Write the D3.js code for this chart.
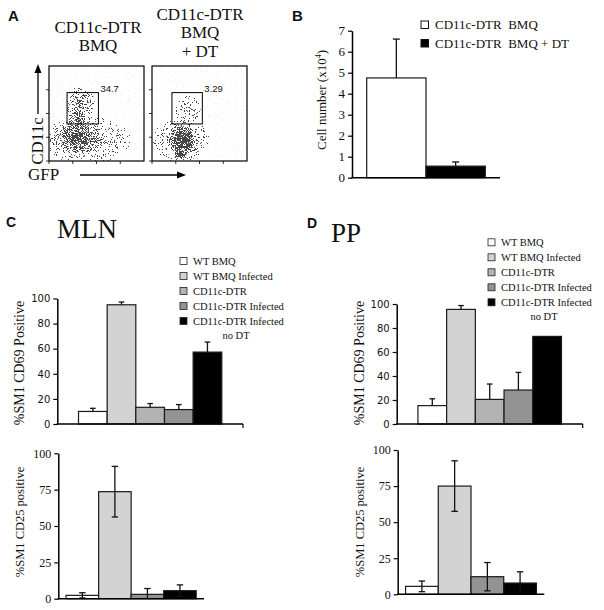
<!DOCTYPE html>
<html><head><meta charset="utf-8">
<script src="https://cdn.jsdelivr.net/npm/d3@7"></script>
<style>body{margin:0;background:#fff}svg{display:block}</style>
</head><body>
<svg id="fig" width="604" height="610"></svg>
<script>
// ---------------- DATA ----------------
// Panel A (flow plots, channel units 0-100 on each axis)
const flowTitles = [["CD11c-DTR", "BMQ"], ["CD11c-DTR", "BMQ", "+ DT"]];
const gatePercent = ["34.7", "3.29"];
const gateX0 = [19, 21], gateX1 = [52, 53], gateY0 = [39, 39], gateY1 = [72, 72];
const flowTicks = [0, 25, 50, 75];
// density clouds (centre x, centre y, radius x, radius y, peak density)
const cloudsBMQ = [
  {x: 40, y: 22, rx: 46, ry: 25, d: 0.38},
  {x: 29, y: 25, rx: 26, ry: 20, d: 0.68},
  {x: 33, y: 60, rx: 15, ry: 19, d: 0.6},
  {x: 30, y: 42, rx: 10, ry: 12, d: 0.45}
];
const cloudsBMQDT = [
  {x: 30, y: 22, rx: 30, ry: 24, d: 0.38},
  {x: 32, y: 22, rx: 17, ry: 18, d: 0.95},
  {x: 30, y: 8, rx: 9, ry: 9, d: 0.75},
  {x: 38, y: 52, rx: 14, ry: 17, d: 0.3}
];

// Panel B
const bCategories = ["CD11c-DTR  BMQ", "CD11c-DTR  BMQ + DT"];
const bValues = [4.75, 0.55];
const bErrors = [1.85, 0.2];
const bTicks = [0, 1, 2, 3, 4, 5, 6, 7];

// Panels C & D
const groups = ["WT BMQ", "WT BMQ Infected", "CD11c-DTR", "CD11c-DTR Infected", "CD11c-DTR Infected"];
const groupColors = ["#ffffff", "#d3d3d3", "#b3b3b3", "#939393", "#000000"];
const cd25Groups = [0, 1, 3, 4];
const cd69Ticks = [0, 20, 40, 60, 80, 100];
const cd25Ticks = [0, 25, 50, 75, 100];
const mlnCD69 = [10, 95, 13.3, 11.5, 57.3];
const mlnCD69Err = [2.5, 2.2, 3, 4, 8];
const mlnCD25 = [2.3, 73.6, 3, 5.5];
const mlnCD25Err = [1.8, 17.4, 4, 4];
const ppCD69 = [15.3, 95.5, 20.5, 28.3, 73];
const ppCD69Err = [5.7, 3.2, 12.8, 14.7, 0];
const ppCD25 = [5.5, 75, 12.2, 7.8];
const ppCD25Err = [3.7, 17.5, 9.8, 7.8];

// ---------------- DRAWING ----------------
const SERIF = "'Liberation Serif','Times New Roman',serif";
const SANS = "'Liberation Sans',Arial,sans-serif";
const VERD = "'DejaVu Sans',Verdana,sans-serif";
const INK = "#111";
const svg = d3.select("#fig");
const defs = svg.append("defs");

function panelLetter(t, x, y, size) {
  svg.append("text").attr("x", x).attr("y", y).text(t)
    .attr("font-family", SANS).attr("font-weight", "bold").attr("font-size", size).attr("fill", INK);
}

// ---- Panel A ----
panelLetter("A", 8, 21, 15);
const flowBoxes = [{x0: 49, clouds: cloudsBMQ}, {x0: 152, clouds: cloudsBMQDT}];
const flowSize = 95, flowTop = 66;
const titleCenters = [98, 200];
const titleBase = [[33, 51], [20, 38, 57]];

flowBoxes.forEach((fb, i) => {
  const f = defs.append("filter").attr("id", "speck" + i)
    .attr("filterUnits", "userSpaceOnUse")
    .attr("x", fb.x0).attr("y", flowTop).attr("width", flowSize).attr("height", flowSize)
    .attr("color-interpolation-filters", "sRGB");
  f.append("feTurbulence").attr("type", "fractalNoise").attr("baseFrequency", 1.15)
    .attr("numOctaves", 2).attr("seed", 5 + i).attr("result", "noise");
  f.append("feColorMatrix").attr("in", "noise").attr("type", "matrix")
    .attr("values", "0 0 0 0 0  0 0 0 0 0  0 0 0 0 0  2.6 0 0 0 -0.8").attr("result", "na");
  f.append("feComposite").attr("in", "SourceAlpha").attr("in2", "na").attr("operator", "arithmetic")
    .attr("k1", 0).attr("k2", 1).attr("k3", -1).attr("k4", 0.5).attr("result", "diff");
  f.append("feColorMatrix").attr("in", "diff").attr("type", "matrix")
    .attr("values", "0 0 0 0 0  0 0 0 0 0  0 0 0 0 0  0 0 0 40 -20");

  const xs = d3.scaleLinear().domain([0, 100]).range([fb.x0, fb.x0 + flowSize]);
  const ys = d3.scaleLinear().domain([0, 100]).range([flowTop + flowSize, flowTop]);
  const g = svg.append("g");

  const cg = g.append("g").attr("filter", `url(#speck${i})`).attr("opacity", 0.72);
  fb.clouds.forEach((c, k) => {
    const gid = `cg${i}_${k}`;
    const rg = defs.append("radialGradient").attr("id", gid);
    rg.append("stop").attr("offset", "0%").attr("stop-color", "#000").attr("stop-opacity", c.d);
    rg.append("stop").attr("offset", "100%").attr("stop-color", "#000").attr("stop-opacity", 0.04);
    cg.append("ellipse").attr("cx", xs(c.x)).attr("cy", ys(c.y))
      .attr("rx", xs(c.rx) - xs(0)).attr("ry", ys(0) - ys(c.ry))
      .attr("fill", `url(#${gid})`);
  });

  g.append("rect").attr("x", xs(0)).attr("y", ys(100)).attr("width", flowSize).attr("height", flowSize)
    .attr("fill", "none").attr("stroke", "#000").attr("stroke-width", 1.2);
  g.selectAll(".lt").data(flowTicks).join("line")
    .attr("x1", xs(0) - 3).attr("x2", xs(0)).attr("y1", d => ys(d)).attr("y2", d => ys(d))
    .attr("stroke", "#000").attr("stroke-width", 0.8);
  g.selectAll(".bt").data(flowTicks).join("line")
    .attr("y1", ys(0)).attr("y2", ys(0) + 3).attr("x1", d => xs(d)).attr("x2", d => xs(d))
    .attr("stroke", "#000").attr("stroke-width", 0.8);
  g.append("rect").attr("x", xs(gateX0[i])).attr("y", ys(gateY1[i]))
    .attr("width", xs(gateX1[i]) - xs(gateX0[i])).attr("height", ys(gateY0[i]) - ys(gateY1[i]))
    .attr("fill", "none").attr("stroke", "#000").attr("stroke-width", 1);
  g.append("text").attr("x", xs(gateX1[i]) + 2).attr("y", ys(gateY1[i]) - 1)
    .text(gatePercent[i]).attr("font-family", SANS).attr("font-size", 9.5).attr("fill", INK);
  flowTitles[i].forEach((t, j) => {
    svg.append("text").attr("x", titleCenters[i]).attr("y", titleBase[i][j]).attr("text-anchor", "middle")
      .text(t).attr("font-family", SERIF).attr("font-size", 17).attr("fill", INK);
  });
});
svg.append("line").attr("x1", 38).attr("x2", 38).attr("y1", 114).attr("y2", 71).attr("stroke", "#000").attr("stroke-width", 1.3);
svg.append("path").attr("d", "M38,64 L34.5,73 L41.5,73 Z").attr("fill", "#000");
svg.append("text").attr("transform", "translate(43,141) rotate(-90)").attr("text-anchor", "middle")
  .text("CD11c").attr("font-family", SERIF).attr("font-size", 17).attr("fill", INK);
svg.append("text").attr("x", 28).attr("y", 180).text("GFP")
  .attr("font-family", SERIF).attr("font-size", 17).attr("fill", INK);
svg.append("line").attr("x1", 80).attr("x2", 178).attr("y1", 175).attr("y2", 175).attr("stroke", "#000").attr("stroke-width", 1.3);
svg.append("path").attr("d", "M186,175 L177,171.5 L177,178.5 Z").attr("fill", "#000");

// ---- generic bar chart ----
function barChart(o) {
  const g = svg.append("g");
  const x = d3.scaleBand().domain(d3.range(o.values.length)).range([o.x0, o.x1])
    .paddingInner(0).paddingOuter(o.pad);
  const y = d3.scaleLinear().domain([0, o.ymax]).range([o.yb, o.yt]);
  g.selectAll(".bar").data(o.values).join("rect")
    .attr("x", (d, i) => x(i)).attr("y", d => y(d))
    .attr("width", x.bandwidth()).attr("height", d => y(0) - y(d))
    .attr("fill", (d, i) => o.colors[i]).attr("stroke", "#1a1a1a").attr("stroke-width", 1.2);
  const eg = g.append("g").attr("stroke", "#111").attr("stroke-width", 1.3);
  o.values.forEach((v, i) => {
    const e = o.errors[i];
    if (!e) return;
    const cx = x(i) + x.bandwidth() / 2;
    const hi = v + e, lo = o.both ? Math.max(0, v - e) : v;
    eg.append("line").attr("x1", cx).attr("x2", cx).attr("y1", y(lo)).attr("y2", y(hi));
    eg.append("line").attr("x1", cx - o.cap).attr("x2", cx + o.cap).attr("y1", y(hi)).attr("y2", y(hi));
    if (o.both && v - e > 0.3)
      eg.append("line").attr("x1", cx - o.cap).attr("x2", cx + o.cap).attr("y1", y(lo)).attr("y2", y(lo));
  });
  const ax = g.append("g").attr("transform", `translate(${o.x0},0)`)
    .call(d3.axisLeft(y).tickValues(o.ticks).tickFormat(d3.format("d")).tickSize(4).tickSizeOuter(0).tickPadding(3));
  ax.select(".domain").attr("stroke", "#000").attr("stroke-width", 1.5);
  ax.selectAll(".tick line").attr("stroke", "#000").attr("stroke-width", 1.2);
  ax.selectAll(".tick text").attr("font-family", o.tickFont).attr("font-size", o.tickSize).attr("fill", INK);
  g.append("line").attr("x1", o.x0 - 0.7).attr("x2", o.x1).attr("y1", y(0)).attr("y2", y(0))
    .attr("stroke", "#000").attr("stroke-width", 1.5);
  if (o.endTick)
    g.append("line").attr("x1", o.x1).attr("x2", o.x1).attr("y1", y(0)).attr("y2", y(0) + 4)
      .attr("stroke", "#000").attr("stroke-width", 1.2);
  if (o.label)
    g.append("text").attr("transform", `translate(${o.lx},${o.ly}) rotate(-90)`).attr("text-anchor", "middle")
      .attr("font-family", SERIF).attr("font-size", o.lsize).attr("fill", INK).text(o.label);
  return {x, y, g};
}

// ---- Panel B ----
panelLetter("B", 292, 21, 15);
barChart({
  values: bValues, errors: bErrors, colors: ["#ffffff", "#000000"],
  x0: 352, x1: 500, pad: 0.248, yb: 177.7, yt: 30.7, ymax: 7, ticks: bTicks,
  tickFont: SERIF, tickSize: 13, cap: 3.5, both: false, endTick: false, label: ""
});
const bl = svg.append("text").attr("transform", "translate(326,100) rotate(-90)").attr("text-anchor", "middle")
  .attr("font-family", SERIF).attr("font-size", 13).attr("fill", INK);
bl.append("tspan").text("Cell number (x10");
bl.append("tspan").text("4").attr("font-size", 8).attr("dy", -5);
bl.append("tspan").text(")").attr("dy", 5);
bCategories.forEach((c, i) => {
  const yy = 21 + i * 18.5;
  svg.append("rect").attr("x", 421).attr("y", yy).attr("width", 7.5).attr("height", 7.5)
    .attr("fill", i ? "#000" : "#fff").attr("stroke", "#111").attr("stroke-width", 1);
  svg.append("text").attr("x", 435).attr("y", yy + 8).text(c).style("white-space", "pre")
    .attr("font-family", SERIF).attr("font-size", 13).attr("fill", INK);
});

// ---- Panels C and D ----
function legend5(x, y0) {
  groups.forEach((gname, i) => {
    const yy = y0 + i * 15;
    svg.append("rect").attr("x", x).attr("y", yy - 3.5).attr("width", 7).attr("height", 7)
      .attr("fill", groupColors[i]).attr("stroke", "#222").attr("stroke-width", 0.8);
    svg.append("text").attr("x", x + 13).attr("y", yy + 3.5).text(gname)
      .attr("font-family", SERIF).attr("font-size", 10.5).attr("fill", INK);
  });
  svg.append("text").attr("x", x + 56).attr("y", y0 + 5 * 15 + 3).attr("text-anchor", "middle").text("no DT")
    .attr("font-family", SERIF).attr("font-size", 10.5).attr("fill", INK);
}

panelLetter("C", 6, 227, 14);
svg.append("text").attr("x", 57).attr("y", 238).text("MLN").attr("font-family", SERIF).attr("font-size", 27).attr("fill", INK);
legend5(180, 261);
barChart({
  values: mlnCD69, errors: mlnCD69Err, colors: groupColors,
  x0: 57.3, x1: 243, pad: 0.74, yb: 424, yt: 298.5, ymax: 100, ticks: cd69Ticks,
  tickFont: VERD, tickSize: 10, cap: 2.8, both: false, endTick: true,
  lx: 24, ly: 363, lsize: 14, label: "%SM1 CD69 Positive"
});
barChart({
  values: mlnCD25, errors: mlnCD25Err, colors: cd25Groups.map(i => groupColors[i]),
  x0: 58.3, x1: 204, pad: 0.24, yb: 598.7, yt: 453.3, ymax: 100, ticks: cd25Ticks,
  tickFont: SERIF, tickSize: 12, cap: 3.2, both: true, endTick: false,
  lx: 24, ly: 522, lsize: 12.5, label: "%SM1 CD25 positive"
});

panelLetter("D", 307, 228, 14);
svg.append("text").attr("x", 331).attr("y", 242).text("PP").attr("font-family", SERIF).attr("font-size", 27).attr("fill", INK);
legend5(488, 242.3);
barChart({
  values: ppCD69, errors: ppCD69Err, colors: groupColors,
  x0: 396.7, x1: 582.7, pad: 0.74, yb: 424, yt: 304, ymax: 100, ticks: cd69Ticks,
  tickFont: VERD, tickSize: 10, cap: 2.8, both: false, endTick: true,
  lx: 364, ly: 363, lsize: 14, label: "%SM1 CD69 Positive"
});
barChart({
  values: ppCD25, errors: ppCD25Err, colors: cd25Groups.map(i => groupColors[i]),
  x0: 397.7, x1: 544.3, pad: 0.24, yb: 594.3, yt: 450, ymax: 100, ticks: cd25Ticks,
  tickFont: SERIF, tickSize: 12, cap: 3.2, both: true, endTick: false,
  lx: 364, ly: 522, lsize: 12.5, label: "%SM1 CD25 positive"
});
</script>
</body></html>
